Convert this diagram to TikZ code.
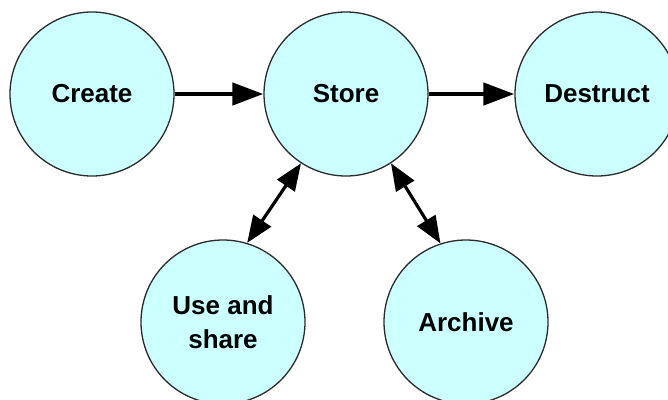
\documentclass[tikz,border=0pt]{standalone}
\usepackage{fontspec}
\setmainfont{Liberation Sans}
\usetikzlibrary{arrows.meta}
\definecolor{stagefill}{HTML}{CCFFFF}
\definecolor{stageline}{HTML}{2B2B2B}
\begin{document}
\begin{tikzpicture}[x=1pt,y=-1pt,
  stage/.style={circle,draw=stageline,line width=1.3pt,fill=stagefill,
    minimum size=164pt,inner sep=0pt,align=center,
    font=\fontsize{26}{34}\selectfont\bfseries},
  flow/.style={line width=4.5pt,-{Triangle[length=31pt,width=22pt]}},
  both/.style={line width=3.2pt,{Triangle[length=27pt,width=21pt]}-{Triangle[length=27pt,width=21pt]}}]
  \useasboundingbox (0,0) rectangle (668,399);
  \clip (0,0) rectangle (668,399);
  % lifecycle stages
  \node[stage] (create)   at (92,94)  {Create};
  \node[stage] (store)    at (346,94) {Store};
  \node[stage] (destruct) at (597,94) {Destruct};
  \node[stage] (use)      at (223,322) {Use and\\share};
  \node[stage] (archive)  at (466,322) {Archive};
  % transitions
  \draw[flow] (create) -- (store);
  \draw[flow] (store) -- (destruct);
  \draw[both] (use.73) -- (store.237);
  \draw[both] (store.303) -- (archive.108);
\end{tikzpicture}
\end{document}
